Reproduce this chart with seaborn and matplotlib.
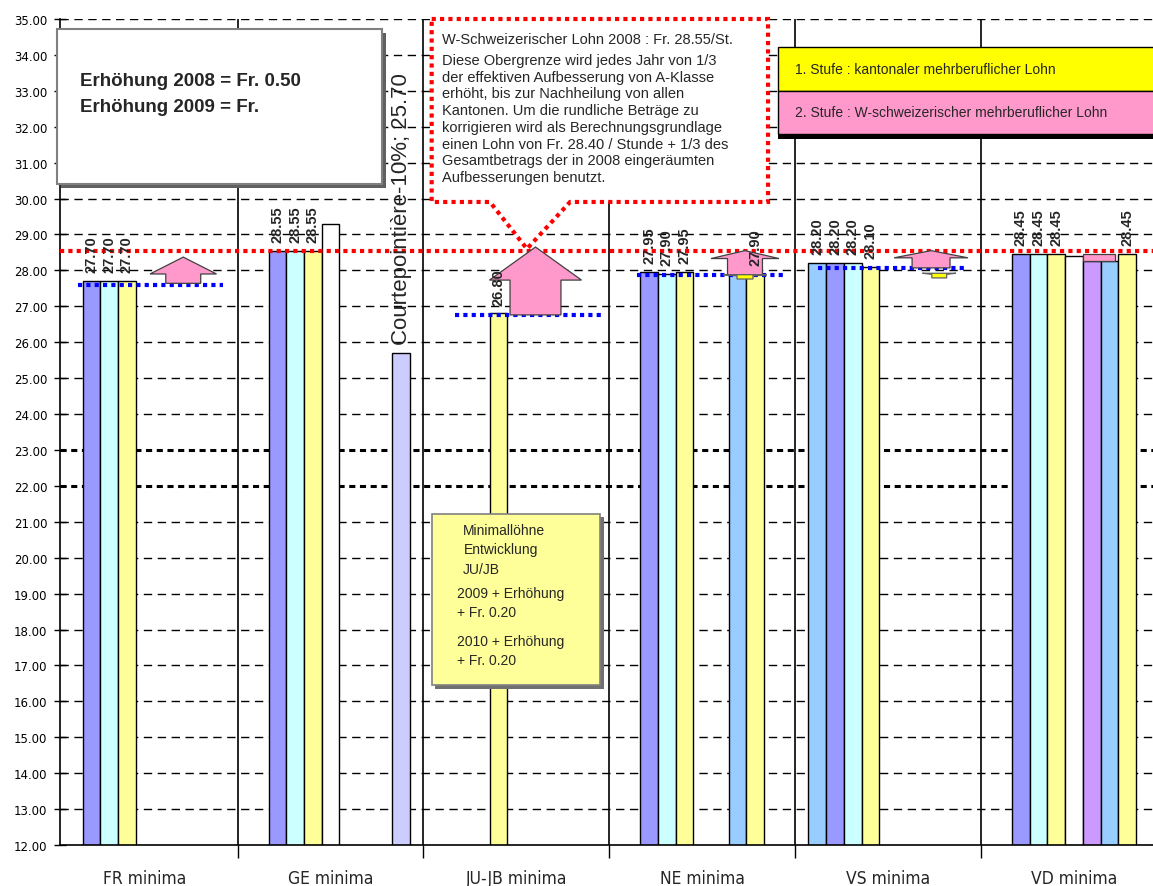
import matplotlib
matplotlib.use("Agg")
import numpy as np
import pandas as pd
import matplotlib.pyplot as plt
from matplotlib.patches import Rectangle, Polygon
from matplotlib.ticker import FormatStrFormatter
import seaborn as sns

# --- Data ---
categories = ["FR minima", "GE minima", "JU-JB minima", "NE minima", "VS minima", "VD minima"]

series_names = ["Reihe 1", "Reihe 2", "Reihe 3", "Reihe 4", "Reihe 5",
                "Reihe 6", "Reihe 7", "Reihe 8", "Reihe 9"]
series_colors = ["#99CCFF", "#9999FF", "#CCFFFF", "#FFFF99", "#FFFFFF",
                 "#CC99FF", "#99CCFF", "#FFFF99", "#CCCCFF"]

reihe_1 = [None, None, None, None, 28.20, None]
reihe_2 = [27.70, 28.55, None, 27.95, 28.20, 28.45]
reihe_3 = [27.70, 28.55, None, 27.90, 28.20, 28.45]
reihe_4 = [27.70, 28.55, 26.80, 27.95, 28.10, 28.45]
reihe_5 = [None, 29.30, None, None, None, 28.40]
reihe_6 = [None, None, None, None, None, 28.25]
reihe_7 = [None, None, None, 27.90, None, 28.25]
reihe_8 = [None, None, None, 27.90, None, 28.45]
reihe_9 = [None, 25.70, None, None, None, None]
series_values = [reihe_1, reihe_2, reihe_3, reihe_4, reihe_5,
                 reihe_6, reihe_7, reihe_8, reihe_9]

labelled_series = ["Reihe 1", "Reihe 2", "Reihe 3", "Reihe 4", "Reihe 8"]
courte_series = "Reihe 9"
courte_label = "Courtepointière-10%; 25.70"

w_lohn_2008 = 28.55
# blue base levels (category, level)
base_cats = [0, 2, 3, 4]
base_levels = [27.60, 26.75, 27.88, 28.06]

rows = []
for name, vals in zip(series_names, series_values):
    for cat, v in zip(categories, vals):
        if v is not None:
            rows.append({"Kanton": cat, "Serie": name, "Lohn": v})
df = pd.DataFrame(rows)

# --- Style ---
sns.set_theme(style="ticks")
plt.rcParams["font.family"] = ["Liberation Sans", "DejaVu Sans"]

fig = plt.figure(figsize=(11.53, 8.87), dpi=100)
ax = fig.add_axes([60 / 1153, 41 / 887, 1 - 60 / 1153, 826 / 887])

sns.barplot(data=df, x="Kanton", y="Lohn", hue="Serie", order=categories,
            hue_order=series_names, palette=dict(zip(series_names, series_colors)),
            width=0.857, dodge=True, saturation=1, errorbar=None,
            edgecolor="black", linewidth=1, legend=False, ax=ax, zorder=2)

# bar labels
present = [s for s in series_names if s in set(df["Serie"])]
for name, cont in zip(present, ax.containers):
    for bar in cont:
        h = bar.get_height()
        cx = bar.get_x() + bar.get_width() / 2
        if name in labelled_series:
            ax.text(cx, h + 0.25, f"{h:.2f}", rotation=90, ha="center", va="bottom",
                    fontsize=10.5, fontweight="bold", zorder=4.5)
        elif name == courte_series:
            ax.text(cx, h + 0.25, courte_label, rotation=90, ha="center", va="bottom",
                    fontsize=16, zorder=4.5)

# --- Axes ---
ax.set_ylim(12, 35)
ax.set_xlim(-0.455, 5.425)
ax.set_yticks(np.arange(12, 36, 1))
ax.yaxis.set_major_formatter(FormatStrFormatter("%.2f"))
ax.set_xlabel("")
ax.set_ylabel("")
ax.tick_params(axis="y", direction="inout", length=8, width=1, labelsize=8.5, pad=5, colors="black")
ax.tick_params(axis="x", which="major", length=0, pad=17, labelsize=12.5)
for lab in ax.get_xticklabels():
    lab.set_fontfamily("DejaVu Sans")
    lab.set_fontstretch("condensed")
for lab in ax.get_yticklabels():
    lab.set_fontfamily("DejaVu Sans")
ax.set_xticks(np.arange(0.5, 5, 1), minor=True)
ax.tick_params(axis="x", which="minor", direction="out", length=9, width=1, color="black")
sns.despine(ax=ax, top=True, right=True)
for s in ["left", "bottom"]:
    ax.spines[s].set_color("black")
    ax.spines[s].set_linewidth(1.2)

# grid
for v in range(13, 36):
    if v in (22, 23):
        ax.axhline(v, color="black", lw=2.2, ls=(0, (2, 1.5)), zorder=0.5)
    else:
        ax.axhline(v, color="black", lw=1, ls=(0, (6, 4)), zorder=0.5)
ax.vlines(np.arange(0.5, 5, 1), 12, 35, color="black", lw=1.2, zorder=1)

# red W-Schweiz line
ax.axhline(w_lohn_2008, color="red", lw=3, ls=(0, (1, 1)), zorder=3.5)

# blue dotted base levels
blue_extent = [(-0.357, 0.423), (-0.33, 0.477), (-0.351, 0.456), (-0.377, 0.425)]
for c, lvl, (a, b) in zip(base_cats, base_levels, blue_extent):
    ax.plot([c + a, c + b], [lvl, lvl], color="#0000FF", lw=3, ls=(0, (1, 1)), zorder=3.5)


# pink arrows
def up_arrow(xc, y0, yh, yt, hh, sh, color):
    pts = [(xc - sh, y0), (xc + sh, y0), (xc + sh, yh), (xc + hh, yh),
           (xc, yt), (xc - hh, yh), (xc - sh, yh)]
    return Polygon(pts, closed=True, facecolor=color, edgecolor="#404040", lw=0.9, zorder=4)


arrows = [(0.208, 27.64, 27.90, 28.37, 0.179, 0.094),
          (2.103, 26.76, 27.73, 28.65, 0.2475, 0.137),
          (3.230, 27.88, 28.33, 28.55, 0.183, 0.094),
          (4.231, 28.07, 28.35, 28.55, 0.199, 0.102)]
for a in arrows:
    ax.add_patch(up_arrow(*a, "#FF99CC"))
ax.add_patch(Rectangle((5.05, 28.27), 0.171, 0.19, facecolor="#FF99CC",
                       edgecolor="#404040", lw=0.9, zorder=4))


# small yellow markers
def small_marker(xc, ytop, ybot, hw, sw):
    pts = [(xc - hw, ytop), (xc + hw, ytop), (xc + sw, ytop - 0.03), (xc + sw, ybot),
           (xc - sw, ybot), (xc - sw, ytop - 0.03)]
    return Polygon(pts, closed=True, facecolor="#FFFF00", edgecolor="#606060", lw=0.9, zorder=4)


ax.add_patch(small_marker(3.230, 27.88, 27.76, 0.118, 0.043))
ax.add_patch(small_marker(4.275, 27.92, 27.79, 0.09, 0.04))

# top-left box
ax.add_patch(Rectangle((-0.4716 + 0.022, 30.41 - 0.11), 1.7486, 4.31, facecolor="#606060",
                       edgecolor="none", zorder=5, clip_on=False))
ax.add_patch(Rectangle((-0.4716, 30.41), 1.7486, 4.31, facecolor="white",
                       edgecolor="#808080", lw=1.5, zorder=5.1, clip_on=False))
ax.text(-0.348, 33.28, "Erhöhung 2008 = Fr. 0.50", fontsize=13.5, fontweight="bold",
        va="center", ha="left", zorder=6)
ax.text(-0.348, 32.55, "Erhöhung 2009 = Fr.", fontsize=13.5, fontweight="bold",
        va="center", ha="left", zorder=6)

# callout with pointer
L, R, B, T = 1.5445, 3.354, 29.905, 35.0
callout = Polygon([(L, T), (R, T), (R, B), (2.289, B), (2.057, 28.6), (1.858, B), (L, B)],
                  closed=True, facecolor="white", edgecolor="red", lw=3,
                  ls=(0, (1, 1)), zorder=5, clip_on=False)
ax.add_patch(callout)
ax.text(1.6, 34.445, "W-Schweizerischer Lohn 2008 : Fr. 28.55/St.", fontsize=10.5,
        va="center", ha="left", zorder=6)
body = ("Diese Obergrenze wird jedes Jahr von 1/3\n"
        "der effektiven Aufbesserung von A-Klasse\n"
        "erhöht, bis zur Nachheilung von allen\n"
        "Kantonen. Um die rundliche Beträge zu\n"
        "korrigieren wird als Berechnungsgrundlage\n"
        "einen Lohn von Fr. 28.40 / Stunde + 1/3 des\n"
        "Gesamtbetrags der in 2008 eingeräumten\n"
        "Aufbesserungen benutzt.")
ax.text(1.6, 34.06, body, fontsize=10.5, va="top", ha="left", linespacing=1.25, zorder=6)

# legend-like box (Stufen)
ax.add_patch(Rectangle((3.408, 31.66), 2.2, 0.2, facecolor="black", edgecolor="none",
                       zorder=5, clip_on=False))
ax.add_patch(Rectangle((3.408, 33.0), 2.2, 1.22, facecolor="#FFFF00", edgecolor="black",
                       lw=1, zorder=5.1, clip_on=False))
ax.add_patch(Rectangle((3.408, 31.8), 2.2, 1.2, facecolor="#FF99CC", edgecolor="black",
                       lw=1, zorder=5.1, clip_on=False))
ax.text(3.499, 33.61, "1. Stufe : kantonaler mehrberuflicher Lohn", fontsize=10,
        va="center", ha="left", zorder=6)
ax.text(3.499, 32.41, "2. Stufe : W-schweizerischer mehrberuflicher Lohn", fontsize=10,
        va="center", ha="left", zorder=6)

# JU/JB note box
ax.add_patch(Rectangle((1.544 + 0.02, 16.455 - 0.1), 0.906, 4.765, facecolor="#707070",
                       edgecolor="none", zorder=5))
ax.add_patch(Rectangle((1.544, 16.455), 0.906, 4.765, facecolor="#FFFF99",
                       edgecolor="#808080", lw=1.2, zorder=5.1))
note_lines = [(1.714, 20.78, "Minimallöhne"), (1.718, 20.243, "Entwicklung"),
              (1.711, 19.686, "JU/JB"), (1.682, 19.01, "2009 + Erhöhung"),
              (1.682, 18.48, "+ Fr. 0.20"), (1.682, 17.69, "2010 + Erhöhung"),
              (1.682, 17.15, "+ Fr. 0.20")]
for x, y, t in note_lines:
    ax.text(x, y, t, fontsize=10, va="center", ha="left", zorder=6)

fig.savefig("out.png", dpi=100)
